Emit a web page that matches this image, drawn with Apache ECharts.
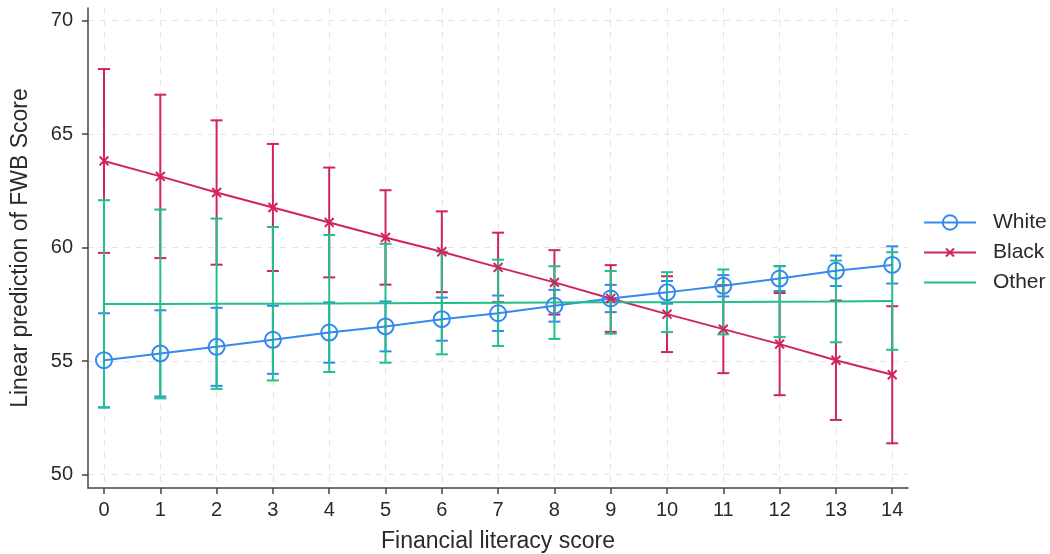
<!DOCTYPE html>
<html>
<head>
    <meta charset="utf-8">
    <title>Financial literacy vs FWB</title>
    <style>
        body { margin: 0; background: #fff; }
    </style>
</head>
<body>
<div id="main" style="width: 1050px;height:554px;"></div>

<script src="https://cdn.jsdelivr.net/npm/echarts@6/dist/echarts.min.js"></script>
<script>
    // x categories (financial literacy score)
    var scores = [0, 1, 2, 3, 4, 5, 6, 7, 8, 9, 10, 11, 12, 13, 14];
    var yTicks = [50, 55, 60, 65, 70];

    // White
    var whiteMean = [55.04, 55.34, 55.63, 55.94, 56.26, 56.53, 56.85, 57.11, 57.44, 57.76, 58.03, 58.32, 58.64, 58.98, 59.24];
    var whiteLo   = [52.97, 53.44, 53.91, 54.44, 54.93, 55.43, 55.90, 56.33, 56.74, 57.16, 57.53, 57.85, 58.09, 58.31, 58.42];
    var whiteHi   = [57.11, 57.24, 57.35, 57.44, 57.59, 57.63, 57.80, 57.89, 58.14, 58.36, 58.53, 58.79, 59.19, 59.65, 60.06];

    // Black
    var blackMean = [63.82, 63.14, 62.43, 61.77, 61.11, 60.45, 59.82, 59.13, 58.47, 57.76, 57.07, 56.41, 55.75, 55.04, 54.40];
    var blackLo   = [59.77, 59.54, 59.25, 58.97, 58.69, 58.37, 58.04, 57.60, 57.05, 56.29, 55.40, 54.47, 53.50, 52.41, 51.38];
    var blackHi   = [67.87, 66.74, 65.61, 64.57, 63.53, 62.53, 61.60, 60.66, 59.89, 59.23, 58.74, 58.35, 58.00, 57.67, 57.42];

    // Other
    var otherMean = [57.52, 57.52, 57.53, 57.53, 57.54, 57.55, 57.56, 57.57, 57.58, 57.59, 57.60, 57.61, 57.62, 57.63, 57.65];
    var otherLo   = [52.95, 53.36, 53.78, 54.15, 54.52, 54.93, 55.30, 55.67, 55.98, 56.21, 56.28, 56.18, 56.06, 55.83, 55.50];
    var otherHi   = [62.09, 61.68, 61.28, 60.91, 60.56, 60.17, 59.82, 59.47, 59.18, 58.97, 58.92, 59.04, 59.18, 59.43, 59.80];

    var cWhite = '#3389ee';
    var cBlack = '#d02462';
    var cOther = '#22bf8c';
    var font = '"Liberation Sans", Arial, sans-serif';

    // x mark, padded so it comes out small in the legend too
    var crossPath = 'path://M-4,-4L-4,-4M0,0L10,10M10,0L0,10M14,14L14,14';

    function pairs(ys) {
        return scores.map(function (x, i) { return [x, ys[i]]; });
    }
    function ciData(lo, hi) {
        return scores.map(function (x, i) { return [x, lo[i], hi[i]]; });
    }

    // error bar with caps
    function errorBar(color) {
        return function (params, api) {
            var x = api.value(0);
            var lo = api.coord([x, api.value(1)]);
            var hi = api.coord([x, api.value(2)]);
            var w = 6;
            var st = { stroke: color, lineWidth: 2 };
            return {
                type: 'group',
                children: [
                    { type: 'line', shape: { x1: lo[0], y1: lo[1], x2: hi[0], y2: hi[1] }, style: st },
                    { type: 'line', shape: { x1: lo[0] - w, y1: lo[1], x2: lo[0] + w, y2: lo[1] }, style: st },
                    { type: 'line', shape: { x1: hi[0] - w, y1: hi[1], x2: hi[0] + w, y2: hi[1] }, style: st }
                ]
            };
        };
    }

    var myChart = echarts.init(document.getElementById('main'));

    myChart.setOption({
        animation: false,
        textStyle: { fontFamily: font },
        grid: { left: 88, right: 142, top: 8, bottom: 66, outerBoundsMode: 'none' },
        legend: {
            orient: 'vertical',
            left: 918,
            top: 207,
            itemWidth: 52,
            itemHeight: 18,
            itemGap: 9,
            data: ['White', 'Black', { name: 'Other', itemStyle: { opacity: 0 } }],
            textStyle: { fontSize: 21, color: '#2a2a2a', fontFamily: font, padding: [0, 0, 0, 12] }
        },
        xAxis: {
            type: 'value',
            min: -0.284,
            max: 14.28,
            name: 'Financial literacy score',
            nameLocation: 'middle',
            nameGap: 42,
            nameMoveOverlap: false,
            nameTextStyle: { fontSize: 23, color: '#2a2a2a', verticalAlign: 'top' },
            axisLine: { show: true, onZero: false, lineStyle: { color: '#444', width: 1.5 } },
            axisTick: { show: true, length: 6, lineStyle: { color: '#444', width: 1.5 }, customValues: scores },
            axisLabel: { fontSize: 20, color: '#2a2a2a', margin: 12, customValues: scores },
            splitLine: { show: true, lineStyle: { color: '#e4e4e4', type: [6, 6], width: 1 } }
        },
        yAxis: {
            type: 'value',
            min: 49.41,
            max: 70.56,
            name: 'Linear prediction of FWB Score',
            nameLocation: 'middle',
            nameGap: 56,
            nameMoveOverlap: false,
            nameTextStyle: { fontSize: 23, color: '#2a2a2a' },
            axisLine: { show: true, onZero: false, lineStyle: { color: '#444', width: 1.5 } },
            axisTick: { show: true, length: 6, lineStyle: { color: '#444', width: 1.5 }, customValues: yTicks },
            axisLabel: { fontSize: 20, color: '#2a2a2a', margin: 15, customValues: yTicks },
            splitLine: { show: true, lineStyle: { color: '#e4e4e4', type: [6, 6], width: 1 } }
        },
        series: [
            { name: 'White CI', type: 'custom', renderItem: errorBar(cWhite), encode: { x: 0, y: [1, 2] }, data: ciData(whiteLo, whiteHi), z: 2 },
            { name: 'Black CI', type: 'custom', renderItem: errorBar(cBlack), encode: { x: 0, y: [1, 2] }, data: ciData(blackLo, blackHi), z: 2 },
            { name: 'Other CI', type: 'custom', renderItem: errorBar(cOther), encode: { x: 0, y: [1, 2] }, data: ciData(otherLo, otherHi), z: 2 },
            {
                name: 'White', type: 'line', data: pairs(whiteMean), z: 3,
                symbol: 'circle', symbolSize: 16,
                lineStyle: { color: cWhite, width: 2 },
                itemStyle: { color: 'rgba(0,0,0,0)', borderColor: cWhite, borderWidth: 2 }
            },
            {
                name: 'Black', type: 'line', data: pairs(blackMean), z: 3,
                symbol: crossPath, symbolSize: 16,
                lineStyle: { color: cBlack, width: 2 },
                itemStyle: { color: cBlack, borderColor: cBlack, borderWidth: 2 }
            },
            {
                name: 'Other', type: 'line', data: pairs(otherMean), z: 3,
                symbol: 'none',
                lineStyle: { color: cOther, width: 2 },
                itemStyle: { color: cOther }
            }
        ]
    });
</script>
</body>
</html>
